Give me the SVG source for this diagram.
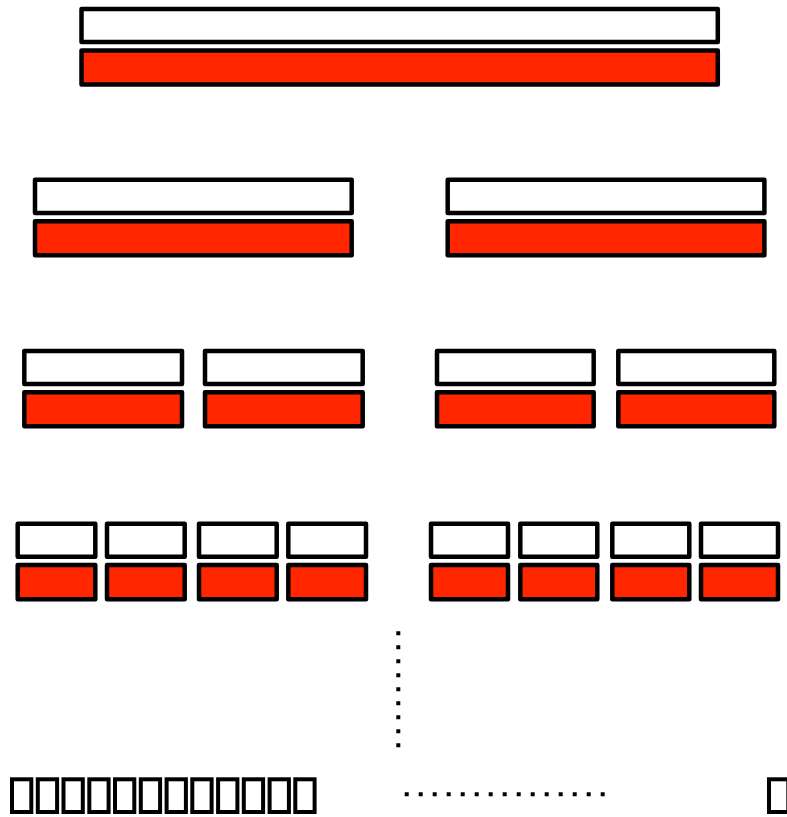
<svg xmlns="http://www.w3.org/2000/svg" width="787" height="817" viewBox="0 0 787 817">
<style>
.w{fill:#ffffff;stroke:#000000;stroke-width:4.5;stroke-linejoin:round}
.r{fill:#ff2600;stroke:#000000;stroke-width:4.5;stroke-linejoin:round}
.t{fill:none;stroke:#000000;stroke-width:4}
.d{fill:none;stroke:#000000;stroke-width:4;stroke-dasharray:4 10}
</style>
<rect width="787" height="817" fill="#ffffff"/>
<g id="n0"><rect class="w" x="81.5" y="9" width="636.3" height="33"/><rect class="r" x="81.5" y="50.5" width="636.3" height="34"/></g>
<g id="n1"><rect class="w" x="35" y="179.7" width="316.7" height="33.3"/><rect class="r" x="35" y="221.3" width="316.7" height="34"/></g>
<g id="n2"><rect class="w" x="447.7" y="179.7" width="316.7" height="33.3"/><rect class="r" x="447.7" y="221.3" width="316.7" height="34"/></g>
<g id="n3"><rect class="w" x="24.3" y="351" width="157.7" height="33"/><rect class="r" x="24.3" y="392.3" width="157.7" height="34"/></g>
<g id="n4"><rect class="w" x="205" y="351" width="157.7" height="33"/><rect class="r" x="205" y="392.3" width="157.7" height="34"/></g>
<g id="n5"><rect class="w" x="437" y="351" width="156.7" height="33"/><rect class="r" x="437" y="392.3" width="156.7" height="34"/></g>
<g id="n6"><rect class="w" x="618.3" y="351" width="156" height="33"/><rect class="r" x="618.3" y="392.3" width="156" height="34"/></g>
<g id="n7"><rect class="w" x="17.7" y="523.7" width="77.6" height="33"/><rect class="r" x="17.7" y="565" width="77.6" height="34.3"/></g>
<g id="n8"><rect class="w" x="107" y="523.7" width="77.7" height="33"/><rect class="r" x="107" y="565" width="77.7" height="34.3"/></g>
<g id="n9"><rect class="w" x="199" y="523.7" width="77.7" height="33"/><rect class="r" x="199" y="565" width="77.7" height="34.3"/></g>
<g id="n10"><rect class="w" x="288.3" y="523.7" width="77.7" height="33"/><rect class="r" x="288.3" y="565" width="77.7" height="34.3"/></g>
<g id="n11"><rect class="w" x="431" y="523.7" width="77" height="33"/><rect class="r" x="431" y="565" width="77" height="34.3"/></g>
<g id="n12"><rect class="w" x="520.3" y="523.7" width="77" height="33"/><rect class="r" x="520.3" y="565" width="77" height="34.3"/></g>
<g id="n13"><rect class="w" x="612.3" y="523.7" width="77" height="33"/><rect class="r" x="612.3" y="565" width="77" height="34.3"/></g>
<g id="n14"><rect class="w" x="701" y="523.7" width="77" height="33"/><rect class="r" x="701" y="565" width="77" height="34.3"/></g>
<g id="connectors">
<line class="d" x1="398.3" y1="631.3" x2="398.3" y2="748"/>
<line class="d" x1="404.7" y1="794.3" x2="608" y2="794.3"/>
</g>
<g id="leaves">
<rect class="t" x="12" y="779.3" width="19.3" height="32.7"/>
<rect class="t" x="37.8" y="779.3" width="19.3" height="32.7"/>
<rect class="t" x="63.5" y="779.3" width="19.3" height="32.7"/>
<rect class="t" x="89.3" y="779.3" width="19.3" height="32.7"/>
<rect class="t" x="115" y="779.3" width="19.3" height="32.7"/>
<rect class="t" x="140.8" y="779.3" width="19.3" height="32.7"/>
<rect class="t" x="166.6" y="779.3" width="19.3" height="32.7"/>
<rect class="t" x="192.3" y="779.3" width="19.3" height="32.7"/>
<rect class="t" x="218.1" y="779.3" width="19.3" height="32.7"/>
<rect class="t" x="243.8" y="779.3" width="19.3" height="32.7"/>
<rect class="t" x="269.6" y="779.3" width="19.3" height="32.7"/>
<rect class="t" x="295.3" y="779.3" width="19.3" height="32.7"/>
<rect class="t" x="769" y="779.3" width="19.3" height="32.7"/>
</g>
</svg>
